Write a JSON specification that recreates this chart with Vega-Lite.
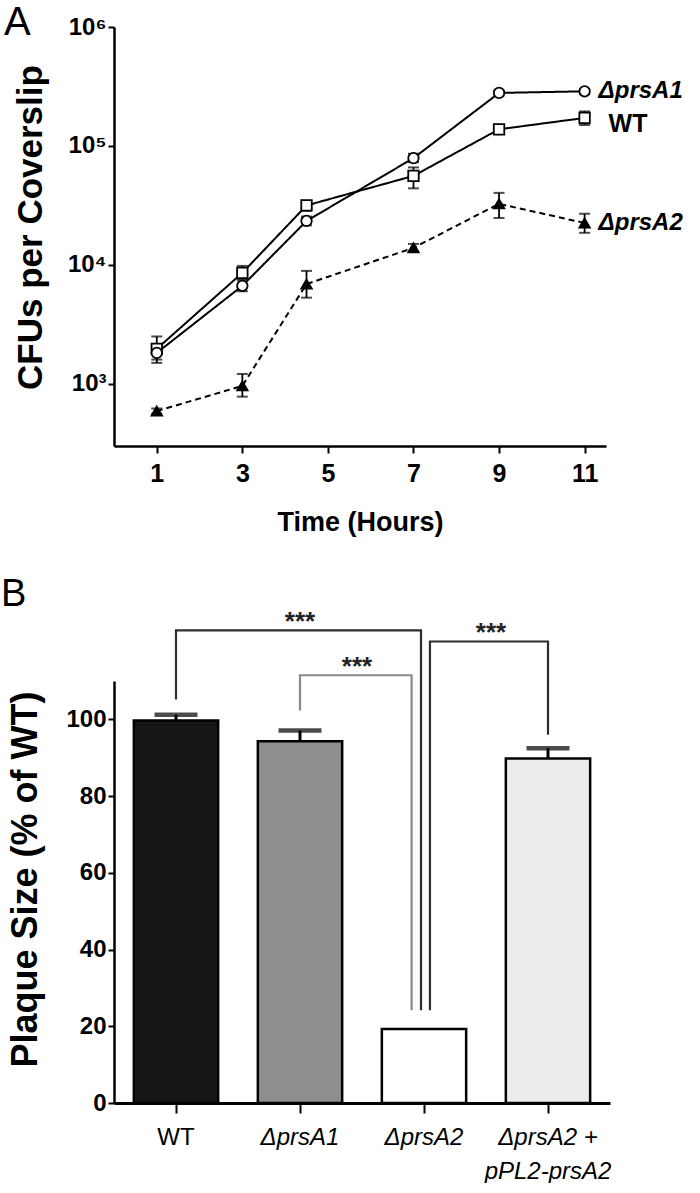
{
  "$schema": "https://vega.github.io/schema/vega-lite/v6.json",
  "background": "white",
  "padding": {"left": 1, "top": 3, "right": 0, "bottom": 0},
  "bounds": "flush",
  "spacing": 235,
  "resolve": {"scale": {"fill": "independent", "color": "independent", "shape": "independent", "strokeDash": "independent"}},
  "config": {
    "view": {"stroke": null},
    "axis": {"grid": false, "domainColor": "black", "tickColor": "black", "labelColor": "black", "titleColor": "black"}
  },
  "datasets": {
    "cfu": [
      {"strain": "WT", "time": 1, "cfu": 1970, "lo": 1600, "hi": 2500},
      {"strain": "WT", "time": 3, "cfu": 8570, "lo": 7600, "hi": 9800},
      {"strain": "WT", "time": 4.5, "cfu": 31600, "lo": 28500, "hi": 34500},
      {"strain": "WT", "time": 7, "cfu": 56000, "lo": 44000, "hi": 66000},
      {"strain": "WT", "time": 9, "cfu": 138000, "lo": 130000, "hi": 146000},
      {"strain": "WT", "time": 11, "cfu": 172000, "lo": 150000, "hi": 195000},
      {"strain": "ΔprsA1", "time": 1, "cfu": 1820, "lo": 1500, "hi": 2100},
      {"strain": "ΔprsA1", "time": 3, "cfu": 6670, "lo": 6000, "hi": 7400},
      {"strain": "ΔprsA1", "time": 4.5, "cfu": 23400, "lo": 21500, "hi": 25500},
      {"strain": "ΔprsA1", "time": 7, "cfu": 79000, "lo": 73000, "hi": 86000},
      {"strain": "ΔprsA1", "time": 9, "cfu": 279000, "lo": 265000, "hi": 293000},
      {"strain": "ΔprsA1", "time": 11, "cfu": 288000, "lo": 275000, "hi": 300000},
      {"strain": "ΔprsA2", "time": 1, "cfu": 590, "lo": 560, "hi": 620},
      {"strain": "ΔprsA2", "time": 3, "cfu": 960, "lo": 780, "hi": 1210},
      {"strain": "ΔprsA2", "time": 4.5, "cfu": 6900, "lo": 5300, "hi": 8900},
      {"strain": "ΔprsA2", "time": 7, "cfu": 13900, "lo": 13000, "hi": 15000},
      {"strain": "ΔprsA2", "time": 9, "cfu": 32600, "lo": 24800, "hi": 40300},
      {"strain": "ΔprsA2", "time": 11, "cfu": 22500, "lo": 18600, "hi": 26900}
    ],
    "cfulab": [
      {"label": "ΔprsA1", "time": 11, "cfu": 288000},
      {"label": "WT", "time": 11, "cfu": 172000},
      {"label": "ΔprsA2", "time": 11, "cfu": 22500}
    ],
    "plaque": [
      {"group": "WT", "pct": 99.7, "pctHi": 101.2},
      {"group": "ΔprsA1", "pct": 94.3, "pctHi": 97.1},
      {"group": "ΔprsA2", "pct": 19.3, "pctHi": 19.3},
      {"group": "ΔprsA2 + pPL2-prsA2", "pct": 89.8, "pctHi": 92.5}
    ],
    "brackets": [
      {"cmp": "WT vs ΔprsA2", "ord": 0, "bx": 0.5, "by": 105.2},
      {"cmp": "WT vs ΔprsA2", "ord": 1, "bx": 0.5, "by": 123.2},
      {"cmp": "WT vs ΔprsA2", "ord": 2, "bx": 2.476, "by": 123.2},
      {"cmp": "WT vs ΔprsA2", "ord": 3, "bx": 2.476, "by": 24.2},
      {"cmp": "ΔprsA1 vs ΔprsA2", "ord": 0, "bx": 1.5, "by": 102.3},
      {"cmp": "ΔprsA1 vs ΔprsA2", "ord": 1, "bx": 1.5, "by": 111.5},
      {"cmp": "ΔprsA1 vs ΔprsA2", "ord": 2, "bx": 2.4, "by": 111.5},
      {"cmp": "ΔprsA1 vs ΔprsA2", "ord": 3, "bx": 2.4, "by": 24.2},
      {"cmp": "ΔprsA2 vs complemented", "ord": 0, "bx": 2.548, "by": 24.2},
      {"cmp": "ΔprsA2 vs complemented", "ord": 1, "bx": 2.548, "by": 120.3},
      {"cmp": "ΔprsA2 vs complemented", "ord": 2, "bx": 3.5, "by": 120.3},
      {"cmp": "ΔprsA2 vs complemented", "ord": 3, "bx": 3.5, "by": 96.0}
    ],
    "stars": [
      {"label": "***", "bx": 1.5, "by": 123.2},
      {"label": "***", "bx": 1.96, "by": 111.5},
      {"label": "***", "bx": 3.04, "by": 120.3}
    ]
  },
  "vconcat": [
    {
      "width": 492,
      "height": 419,
      "title": {"text": "A", "anchor": "start", "frame": "group", "orient": "top", "dx": -110, "dy": 60, "offset": 0, "font": "Liberation Sans", "fontSize": 40, "fontWeight": "normal", "baseline": "alphabetic", "color": "black"},
      "layer": [
        {
          "data": {"name": "cfu"},
          "mark": {"type": "line", "color": "black", "strokeWidth": 2},
          "encoding": {
            "x": {"field": "time", "type": "quantitative", "scale": {"domain": [0, 11.5], "nice": false, "zero": false},
              "axis": {"values": [1, 3, 5, 7, 9, 11], "title": "Time (Hours)", "titleFont": "Liberation Sans", "titleFontSize": 27, "titleFontWeight": "bold", "titleY": 84, "titleBaseline": "alphabetic",
                "labelFont": "Liberation Sans", "labelFontSize": 25, "labelFontWeight": "bold", "labelPadding": 8, "tickSize": 7, "tickWidth": 2, "domainWidth": 2.5, "labelFlush": false, "labelOverlap": false}},
            "y": {"field": "cfu", "type": "quantitative", "scale": {"type": "log", "domain": [300, 1000000], "nice": false},
              "axis": {"values": [1000, 10000, 100000, 1000000], "labelExpr": "datum.value == 1000 ? '10³' : datum.value == 10000 ? '10⁴' : datum.value == 100000 ? '10⁵' : '10⁶'",
                "title": "CFUs per Coverslip", "titleFont": "Liberation Sans", "titleFontSize": 35, "titleFontWeight": "bold", "titleX": -84, "titleY": 200, "titleBaseline": "middle",
                "labelFont": "Liberation Sans", "labelFontSize": 24, "labelFontWeight": "bold", "labelPadding": 2, "tickSize": 6, "tickWidth": 2, "domainWidth": 2.5}},
            "detail": {"field": "strain", "type": "nominal"},
            "strokeDash": {"field": "strain", "type": "nominal", "scale": {"domain": ["WT", "ΔprsA1", "ΔprsA2"], "range": [[1, 0], [1, 0], [6, 4]]}, "legend": null}
          }
        },
        {
          "data": {"name": "cfu"},
          "mark": {"type": "rule", "color": "black", "strokeWidth": 1.8},
          "encoding": {
            "x": {"field": "time", "type": "quantitative"},
            "y": {"field": "lo", "type": "quantitative"},
            "y2": {"field": "hi"}
          }
        },
        {
          "data": {"name": "cfu"},
          "mark": {"type": "tick", "orient": "horizontal", "color": "black", "size": 11, "thickness": 2},
          "encoding": {
            "x": {"field": "time", "type": "quantitative"},
            "y": {"field": "lo", "type": "quantitative"}
          }
        },
        {
          "data": {"name": "cfu"},
          "mark": {"type": "tick", "orient": "horizontal", "color": "black", "size": 11, "thickness": 2},
          "encoding": {
            "x": {"field": "time", "type": "quantitative"},
            "y": {"field": "hi", "type": "quantitative"}
          }
        },
        {
          "data": {"name": "cfu"},
          "mark": {"type": "point", "filled": true, "stroke": "black", "strokeWidth": 1.8, "opacity": 1, "size": 110},
          "encoding": {
            "x": {"field": "time", "type": "quantitative"},
            "y": {"field": "cfu", "type": "quantitative"},
            "shape": {"field": "strain", "type": "nominal", "scale": {"domain": ["WT", "ΔprsA1", "ΔprsA2"], "range": ["square", "circle", "triangle-up"]}, "legend": null},
            "fill": {"field": "strain", "type": "nominal", "scale": {"domain": ["WT", "ΔprsA1", "ΔprsA2"], "range": ["white", "white", "black"]}, "legend": null}
          }
        },
        {
          "data": {"name": "cfulab"},
          "transform": [{"filter": "datum.label !== 'WT'"}],
          "mark": {"type": "text", "align": "left", "baseline": "middle", "dx": 14, "font": "Liberation Sans", "fontSize": 24, "fontWeight": "bold", "fontStyle": "italic", "color": "black"},
          "encoding": {
            "x": {"field": "time", "type": "quantitative"},
            "y": {"field": "cfu", "type": "quantitative"},
            "text": {"field": "label"}
          }
        },
        {
          "data": {"name": "cfulab"},
          "transform": [{"filter": "datum.label === 'WT'"}],
          "mark": {"type": "text", "align": "left", "baseline": "middle", "dx": 24, "dy": 6, "font": "Liberation Sans", "fontSize": 25, "fontWeight": "bold", "color": "black"},
          "encoding": {
            "x": {"field": "time", "type": "quantitative"},
            "y": {"field": "cfu", "type": "quantitative"},
            "text": {"field": "label"}
          }
        }
      ]
    },
    {
      "width": 496,
      "height": 422,
      "title": {"text": "B", "anchor": "start", "frame": "group", "orient": "top", "dx": -113, "dy": 35, "offset": 0, "font": "Liberation Sans", "fontSize": 38, "fontWeight": "normal", "baseline": "alphabetic", "color": "black"},
      "layer": [
        {
          "data": {"name": "plaque"},
          "layer": [
            {
              "mark": {"type": "bar", "stroke": "black", "strokeWidth": 2.5},
              "encoding": {
                "x": {"field": "group", "type": "nominal", "sort": null,
                  "scale": {"domain": ["WT", "ΔprsA1", "ΔprsA2", "ΔprsA2 + pPL2-prsA2"], "paddingInner": 0.32, "paddingOuter": 0.16},
                  "axis": {"title": null, "labelAngle": 0, "domainWidth": 3, "tickSize": 10, "tickWidth": 2,
                    "labelFont": "Liberation Sans", "labelFontSize": 24, "labelPadding": 12, "labelBaseline": "top", "labelLineHeight": 34,
                    "labelFontStyle": {"condition": {"test": "datum.value === 'WT'", "value": "normal"}, "value": "italic"},
                    "labelExpr": "datum.value === 'ΔprsA2 + pPL2-prsA2' ? ['ΔprsA2 +', 'pPL2-prsA2'] : datum.label"}},
                "y": {"field": "pct", "type": "quantitative", "scale": {"domain": [0, 110], "nice": false},
                  "axis": {"values": [0, 20, 40, 60, 80, 100], "title": "Plaque Size (% of WT)", "titleFont": "Liberation Sans", "titleFontSize": 36, "titleFontWeight": "bold", "titleX": -89, "titleY": 198, "titleBaseline": "middle",
                    "labelFont": "Liberation Sans", "labelFontSize": 24, "labelFontWeight": "bold", "labelPadding": 2, "tickSize": 6, "tickWidth": 2, "domainWidth": 2.5}},
                "fill": {"field": "group", "type": "nominal", "scale": {"domain": ["WT", "ΔprsA1", "ΔprsA2", "ΔprsA2 + pPL2-prsA2"], "range": ["#161616", "#8e8e8e", "#ffffff", "#ececec"]}, "legend": null}
              }
            },
            {
              "transform": [{"filter": "datum.pctHi > datum.pct"}],
              "mark": {"type": "rule", "color": "black", "strokeWidth": 3},
              "encoding": {
                "x": {"field": "group", "type": "nominal", "sort": null},
                "y": {"field": "pct", "type": "quantitative"},
                "y2": {"field": "pctHi"}
              }
            },
            {
              "transform": [{"filter": "datum.pctHi > datum.pct"}],
              "mark": {"type": "tick", "orient": "horizontal", "color": "black", "size": 43, "thickness": 4.5},
              "encoding": {
                "x": {"field": "group", "type": "nominal", "sort": null},
                "y": {"field": "pctHi", "type": "quantitative"}
              }
            }
          ]
        },
        {
          "layer": [
            {
              "data": {"name": "brackets"},
              "mark": {"type": "line", "strokeWidth": 2.2, "clip": false},
              "encoding": {
                "x": {"field": "bx", "type": "quantitative", "scale": {"domain": [0, 4], "nice": false, "zero": false}, "axis": null},
                "y": {"field": "by", "type": "quantitative", "scale": {"domain": [0, 110], "nice": false}},
                "detail": {"field": "cmp", "type": "nominal"},
                "order": {"field": "ord", "type": "quantitative"},
                "color": {"field": "cmp", "type": "nominal", "scale": {"domain": ["WT vs ΔprsA2", "ΔprsA1 vs ΔprsA2", "ΔprsA2 vs complemented"], "range": ["#2e2e2e", "#8a8a8a", "#2e2e2e"]}, "legend": null}
              }
            },
            {
              "data": {"name": "stars"},
              "mark": {"type": "text", "baseline": "alphabetic", "align": "center", "font": "Liberation Sans", "fontSize": 26, "fontWeight": "bold", "color": "#222222"},
              "encoding": {
                "x": {"field": "bx", "type": "quantitative"},
                "y": {"field": "by", "type": "quantitative"},
                "text": {"field": "label"}
              }
            }
          ]
        }
      ],
      "resolve": {"scale": {"x": "independent"}}
    }
  ]
}
